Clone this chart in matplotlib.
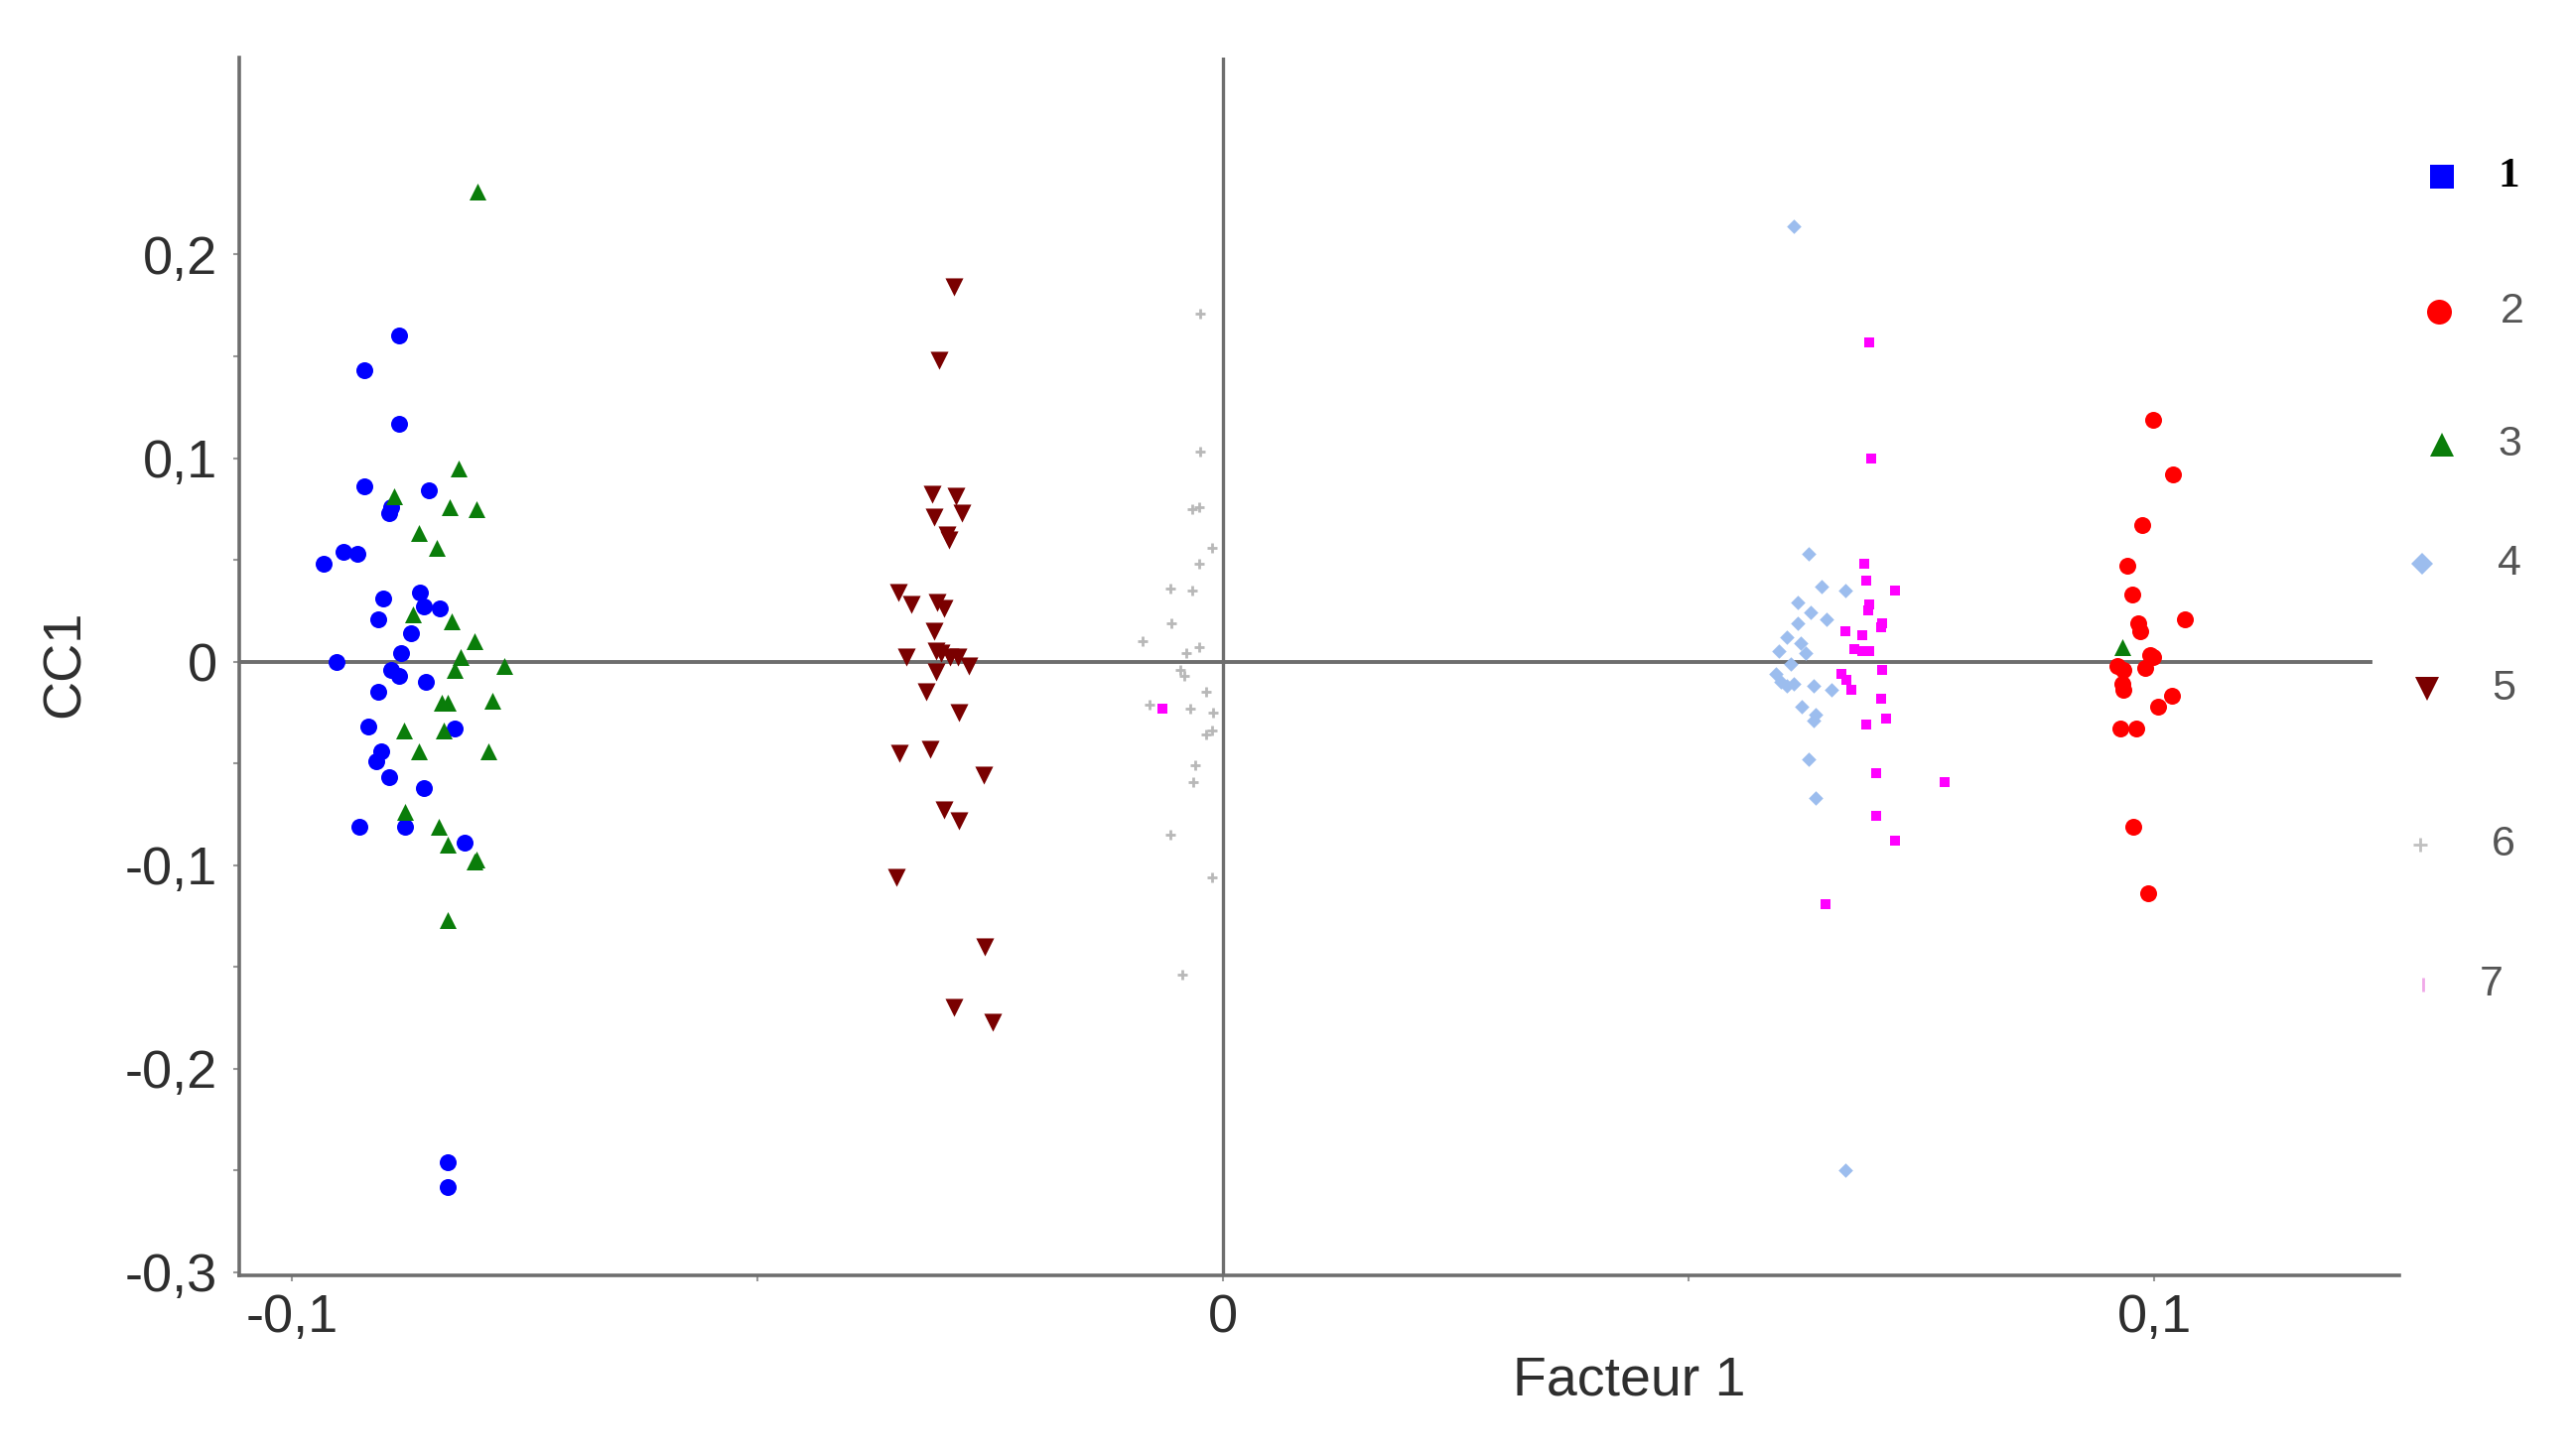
import matplotlib
matplotlib.use("Agg")
import matplotlib.pyplot as plt
from matplotlib.lines import Line2D
import numpy as np

plt.rcParams['font.family'] = ['Liberation Sans', 'DejaVu Sans']

# --- data (Facteur 1, CC1) ---
g1_x = [-0.0885, -0.0922, -0.0885, -0.0922, -0.0853, -0.0895, -0.0893, -0.0966, -0.0944, -0.0929,
        -0.0902, -0.0907, -0.0862, -0.0858, -0.0841, -0.0872, -0.0952, -0.0883, -0.0893, -0.0885,
        -0.0856, -0.0907, -0.0918, -0.0825, -0.0904, -0.0909, -0.0895, -0.0858, -0.0927, -0.0878,
        -0.0814, -0.0832, -0.0832]
g1_y = [0.160, 0.143, 0.117, 0.086, 0.084, 0.073, 0.076, 0.048, 0.054, 0.053,
        0.031, 0.021, 0.034, 0.027, 0.026, 0.014, 0.000, 0.004, -0.004, -0.007,
        -0.010, -0.015, -0.032, -0.033, -0.044, -0.049, -0.057, -0.062, -0.081, -0.081,
        -0.089, -0.246, -0.258]

g2_x = [0.0999, 0.1020, 0.0987, 0.0971, 0.0976, 0.1033, 0.0983, 0.0985, 0.0996, 0.0999,
        0.0960, 0.0967, 0.0990, 0.0966, 0.0967, 0.1019, 0.1004, 0.0964, 0.0981, 0.0978, 0.0994]
g2_y = [0.119, 0.092, 0.067, 0.047, 0.033, 0.021, 0.019, 0.015, 0.003, 0.002,
        -0.002, -0.004, -0.003, -0.011, -0.014, -0.017, -0.022, -0.033, -0.033, -0.081, -0.114]

g3_x = [-0.0800, -0.0821, -0.0890, -0.0830, -0.0802, -0.0863, -0.0844, -0.0870, -0.0828, -0.0804,
        -0.0819, -0.0825, -0.0772, -0.0839, -0.0832, -0.0784, -0.0879, -0.0837, -0.0863, -0.0789,
        -0.0878, -0.0842, -0.0833, -0.0804, -0.0802, -0.0833, 0.0966]
g3_y = [0.231, 0.095, 0.081, 0.076, 0.075, 0.063, 0.056, 0.023, 0.020, 0.010,
        0.002, -0.004, -0.002, -0.020, -0.020, -0.019, -0.034, -0.034, -0.044, -0.044,
        -0.074, -0.081, -0.090, -0.098, -0.097, -0.127, 0.007]

g4_x = [0.0613, 0.0629, 0.0643, 0.0668, 0.0617, 0.0631, 0.0648, 0.0617, 0.0606, 0.0597,
        0.0626, 0.0610, 0.0599, 0.0606, 0.0613, 0.0634, 0.0654, 0.0622, 0.0636, 0.0634,
        0.0629, 0.0636, 0.0668, 0.0594, 0.0620]
g4_y = [0.214, 0.053, 0.037, 0.035, 0.029, 0.024, 0.021, 0.019, 0.012, 0.005,
        0.004, -0.001, -0.010, -0.012, -0.011, -0.012, -0.014, -0.022, -0.026, -0.029,
        -0.048, -0.067, -0.250, -0.006, 0.009]

g5_x = [-0.0289, -0.0305, -0.0312, -0.0287, -0.0310, -0.0280, -0.0296, -0.0294, -0.0349, -0.0335,
        -0.0307, -0.0300, -0.0310, -0.0340, -0.0308, -0.0303, -0.0293, -0.0285, -0.0273, -0.0308,
        -0.0319, -0.0284, -0.0347, -0.0314, -0.0257, -0.0300, -0.0284, -0.0351, -0.0256, -0.0289,
        -0.0247]
g5_y = [0.184, 0.148, 0.082, 0.081, 0.071, 0.073, 0.062, 0.060, 0.034, 0.028,
        0.029, 0.026, 0.015, 0.002, 0.005, 0.004, 0.002, 0.002, -0.002, -0.005,
        -0.015, -0.025, -0.045, -0.043, -0.056, -0.073, -0.078, -0.106, -0.140, -0.170,
        -0.177]

g6_x = [-0.0025, -0.0025, -0.0033, -0.0026, -0.0012, -0.0026, -0.0056, -0.0033, -0.0055, -0.0086,
        -0.0026, -0.0039, -0.0046, -0.0042, -0.0018, -0.0079, -0.0035, -0.0011, -0.0018, -0.0012,
        -0.0030, -0.0032, -0.0056, -0.0012, -0.0044]
g6_y = [0.171, 0.103, 0.075, 0.076, 0.056, 0.048, 0.036, 0.035, 0.019, 0.010,
        0.007, 0.004, -0.004, -0.007, -0.015, -0.021, -0.023, -0.025, -0.036, -0.034,
        -0.051, -0.059, -0.085, -0.106, -0.154]

g7_x = [0.0694, 0.0696, 0.0689, 0.0691, 0.0722, 0.0694, 0.0693, 0.0708, 0.0707, 0.0668,
        0.0687, 0.0678, 0.0687, 0.0694, 0.0708, 0.0664, 0.0670, 0.0675, 0.0707, 0.0712,
        0.0691, 0.0701, 0.0775, 0.0701, 0.0722, 0.0647, -0.0065]
g7_y = [0.157, 0.100, 0.048, 0.040, 0.035, 0.028, 0.025, 0.019, 0.017, 0.015,
        0.013, 0.006, 0.005, 0.005, -0.004, -0.006, -0.009, -0.014, -0.018, -0.028,
        -0.031, -0.055, -0.059, -0.076, -0.088, -0.119, -0.023]

labels = ['1', '2', '3', '4', '5', '6', '7']
colors = ['#0000ff', '#ff0000', '#0a7d0a', '#9cbdee', '#7a0000', '#b8b8b8', '#ff00ff']

xticks = [-0.1, 0, 0.1]
xticklabels = ['-0,1', '0', '0,1']
yticks = [-0.3, -0.2, -0.1, 0, 0.1, 0.2]
yticklabels = ['-0,3', '-0,2', '-0,1', '0', '0,1', '0,2']

fig = plt.figure(figsize=(25.92, 14.67), dpi=100)
ax = fig.add_axes([0.0931, 0.124, 0.8393, 0.8365])

axis_gray = '#6e6e6e'
ax.axhline(0, xmax=0.987, color=axis_gray, lw=2.8, zorder=1)
ax.axvline(0, color=axis_gray, lw=2.4, zorder=1)

ax.scatter(g6_x, g6_y, marker='+', s=60, color=colors[5], linewidths=2.0, zorder=2)
ax.scatter(g4_x, g4_y, marker='D', s=55, color=colors[3], linewidths=0, zorder=2)
ax.scatter(g7_x, g7_y, marker='s', s=55, color=colors[6], linewidths=0, zorder=3)
ax.scatter(g5_x, g5_y, marker='v', s=170, color=colors[4], linewidths=0, zorder=3)
ax.scatter(g1_x, g1_y, marker='o', s=150, color=colors[0], linewidths=0, zorder=3)
ax.scatter(g3_x, g3_y, marker='^', s=150, color=colors[2], linewidths=0, zorder=4)
ax.scatter(g2_x, g2_y, marker='o', s=150, color=colors[1], linewidths=0, zorder=3)

ax.set_xlim(-0.1056, 0.1263)
ax.set_ylim(-0.3016, 0.2968)

for side in ['top', 'right']:
    ax.spines[side].set_visible(False)
for side in ['left', 'bottom']:
    ax.spines[side].set_color(axis_gray)
    ax.spines[side].set_linewidth(2.6)

ax.set_xticks(xticks)
ax.set_xticklabels(xticklabels)
ax.set_yticks(yticks)
ax.set_yticklabels(yticklabels)
ax.set_xticks(np.arange(-0.1, 0.11, 0.05), minor=True)
ax.set_yticks(np.arange(-0.3, 0.21, 0.05), minor=True)
ax.tick_params(which='both', direction='out', length=4, width=1.5, color='#999999')
ax.tick_params(axis='both', labelsize=39, labelcolor='#2e2e2e')
ax.tick_params(axis='y', pad=12)
ax.tick_params(axis='x', pad=9)

fig.text(1641 / 2592, 1 - 1392 / 1467, 'Facteur 1', fontsize=40, color='#2e2e2e',
         ha='center', va='center')
fig.text(66 / 2592, 1 - 669 / 1467, 'CC1', fontsize=39, color='#2e2e2e',
         rotation=90, ha='center', va='center')

# legend, drawn by hand to keep the uneven row spacing
leg_markers = ['s', 'o', '^', 'D', 'v', '+', '|']
leg_colors = ['#0000ff', '#ff0000', '#0a7d0a', '#9cbdee', '#7a0000', '#c0c0c0', '#f0a8e8']
leg_sizes = [17, 18, 17, 11, 17, 10, 10]
leg_mx = [2460, 2457, 2460, 2440, 2445, 2438, 2441]
leg_tx = [2516, 2519, 2516, 2516, 2510, 2510, 2498]
leg_y = [178, 314, 448, 568, 694, 851, 992]
for i, lab in enumerate(labels):
    fig.add_artist(Line2D([leg_mx[i] / 2592], [1 - leg_y[i] / 1467], transform=fig.transFigure,
                          marker=leg_markers[i], markersize=leg_sizes[i], color=leg_colors[i],
                          markeredgewidth=2 if leg_markers[i] in '+|' else 0, linestyle='none'))
    if i == 0:
        fig.text(leg_tx[i] / 2592, 1 - leg_y[i] / 1467, lab, fontsize=31, color='black',
                 family='Liberation Serif', fontweight='bold', ha='left', va='center')
    else:
        fig.text(leg_tx[i] / 2592, 1 - leg_y[i] / 1467, lab, fontsize=31, color='#555555',
                 ha='left', va='center')

fig.savefig('out.png', dpi=100)
